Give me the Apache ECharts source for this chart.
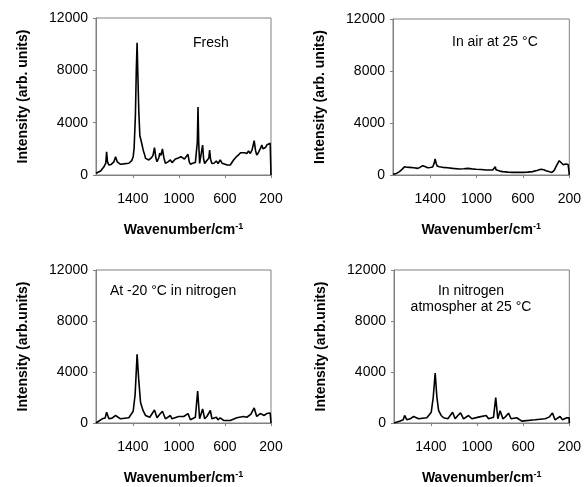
<!DOCTYPE html>
<html>
<head>
<meta charset="utf-8">
<title>Raman spectra</title>
<script src="https://cdn.jsdelivr.net/npm/echarts@6/dist/echarts.min.js"></script>
<style>
    html, body { margin: 0; padding: 0; background: #fff; }
    #main { width: 584px; height: 487px; }
</style>
</head>
<body>
<div id="main"></div>
<script>
    // tick labels
    var xTicks = [200, 600, 1000, 1400];
    var yTicks = [0, 4000, 8000, 12000];

    // Fresh
    var wnFresh = [1720, 1680, 1651, 1635, 1628, 1620, 1608, 1590, 1565, 1550, 1535, 1507, 1480, 1455, 1435, 1410, 1397,
        1389, 1378, 1370, 1363, 1356, 1348, 1339, 1325, 1310, 1296, 1290, 1275, 1261, 1240, 1225, 1212, 1200, 1190,
        1175, 1166, 1155, 1143, 1130, 1117, 1095, 1074, 1060, 1045, 1030, 1005, 982, 965, 952, 935, 921, 910, 900,
        880, 857, 845, 840, 834, 828, 820, 805, 794, 785, 776, 757, 740, 733, 725, 713, 695, 675, 660, 641, 625,
        612, 580, 554, 540, 525, 500, 482, 465, 453, 430, 420, 410, 395, 380, 365, 346, 335, 324, 310, 294, 280,
        270, 259, 248, 237, 220, 207, 201, 200];
    var intFresh = [130, 300, 630, 900, 1780, 1000, 760, 800, 1000, 1400, 1000, 820, 850, 880, 900, 1100, 1400,
        2040, 4500, 8000, 10100, 7500, 4800, 3000, 2500, 1900, 1500, 1270, 1200, 1150, 1300, 1500, 2090, 1300, 1020,
        1300, 1660, 1500, 1990, 1300, 890, 1000, 1150, 950, 1100, 1220, 1300, 1400, 1300, 1220, 1200, 1580, 1000, 820,
        900, 950, 1000, 2500, 5200, 2500, 880, 1000, 2290, 1200, 880, 1100, 1300, 1910, 1200, 880, 900, 1070, 880, 1150, 900,
        760, 760, 760, 900, 1150, 1400, 1530, 1700, 1730, 1700, 1800, 1650, 1830, 1650, 1900, 2620, 1900, 1530, 1700, 1990, 2290,
        2000, 1910, 2100, 2290, 2350, 2420, 2400, 0];

    // In air at 25 °C
    var wnAir = [1720, 1690, 1664, 1640, 1621, 1600, 1578, 1540, 1507, 1485, 1464, 1445, 1421, 1400, 1378, 1365,
        1357, 1348, 1340, 1320, 1291, 1250, 1205, 1148, 1110, 1076, 1040, 1004, 960, 918, 861, 845, 838, 832, 827,
        800, 775, 730, 689, 650, 603, 560, 517, 480, 444, 420, 401, 370, 350, 330, 315, 300, 287, 270, 252, 240,
        229, 210, 201, 200];
    var intAir = [50, 120, 260, 450, 640, 600, 590, 560, 510, 600, 720, 650, 560, 580, 620, 900,
        1230, 900, 690, 640, 590, 560, 510, 460, 480, 510, 470, 440, 420, 380, 380, 420, 640, 400, 330,
        300, 260, 220, 200, 210, 200, 220, 260, 350, 440, 400, 330, 250, 200, 350, 640, 900, 1100, 950, 790, 820,
        850, 800, 780, 0];

    // At -20 °C in nitrogen
    var wnCold = [1720, 1666, 1640, 1628, 1608, 1580, 1550, 1507, 1435, 1397, 1380, 1363, 1348, 1333, 1311, 1290,
        1276, 1253, 1212, 1190, 1166, 1143, 1117, 1074, 1060, 1002, 958, 921, 900, 857, 845, 837, 820, 794, 776,
        757, 727, 713, 675, 660, 641, 612, 554, 497, 439, 410, 376, 346, 324, 294, 280, 259, 237, 207, 201, 200];
    var intCold = [0, 330, 400, 850, 330, 380, 590, 330, 410, 920, 2250, 5380, 3280, 1610, 970, 590,
        680, 450, 1020, 410, 680, 920, 330, 590, 330, 510, 510, 740, 250, 450, 600, 2510, 330, 1100, 330,
        510, 980, 330, 450, 250, 410, 200, 200, 410, 510, 450, 680, 1180, 510, 740, 850, 590, 740, 790, 780, 0];

    // In nitrogen atmosphere at 25 °C
    var wnN2 = [1720, 1666, 1640, 1628, 1608, 1580, 1550, 1507, 1435, 1397, 1380, 1363, 1348, 1333, 1311, 1290,
        1253, 1212, 1190, 1166, 1143, 1117, 1074, 1045, 988, 921, 900, 857, 845, 838, 820, 800, 776, 757, 727,
        705, 656, 612, 497, 410, 376, 346, 324, 280, 259, 222, 201, 200];
    var intN2 = [0, 150, 250, 590, 250, 330, 510, 330, 410, 850, 2000, 3920, 2000, 970, 590, 410,
        330, 850, 330, 590, 790, 330, 590, 330, 460, 590, 330, 460, 600, 2000, 330, 970, 330, 460, 770,
        330, 410, 150, 250, 330, 460, 790, 250, 510, 250, 410, 400, 0];

    var panels = [
        { wn: wnFresh, val: intFresh, grid: { left: 96, top: 18, width: 175, height: 157 }, yName: 'Intensity (arb. units)' },
        { wn: wnAir, val: intAir, grid: { left: 393, top: 19, width: 177, height: 156 }, yName: 'Intensity (arb. units)' },
        { wn: wnCold, val: intCold, grid: { left: 96, top: 270, width: 175, height: 156 }, yName: 'Intensity (arb.units)' },
        { wn: wnN2, val: intN2, grid: { left: 394, top: 270, width: 176, height: 156 }, yName: 'Intensity (arb.units)' }
    ];

    var font = 'Liberation Sans, Arial, sans-serif';
    var frame = '#808080';
    var plain = function (v) { return String(v); };

    var grids = [], xAxes = [], yAxes = [], series = [];
    panels.forEach(function (p, i) {
        grids.push({
            left: p.grid.left, top: p.grid.top, width: p.grid.width, height: p.grid.height,
            show: true, borderColor: frame, borderWidth: 1, backgroundColor: 'transparent'
        });
        xAxes.push({
            gridIndex: i, type: 'value', inverse: true, min: 200, max: 1720,
            name: 'Wavenumber/cm{sup|-1}', nameLocation: 'middle', nameGap: 47,
            nameTextStyle: {
                fontFamily: font, fontSize: 14, fontWeight: 'bold', color: '#000', lineHeight: 16,
                rich: { sup: { fontFamily: font, fontSize: 9, fontWeight: 'bold', color: '#000', verticalAlign: 'top', lineHeight: 10 } }
            },
            axisLine: { lineStyle: { color: frame, width: 1 } },
            axisTick: { show: true, length: 3, lineStyle: { color: frame }, customValues: xTicks },
            axisLabel: { fontFamily: font, fontSize: 14, color: '#000', margin: 17, customValues: xTicks, formatter: plain },
            splitLine: { show: false }
        });
        yAxes.push({
            gridIndex: i, type: 'value', min: 0, max: 12000, interval: 4000,
            name: p.yName, nameLocation: 'middle', nameGap: 66,
            nameTextStyle: { fontFamily: font, fontSize: 14, fontWeight: 'bold', color: '#000' },
            axisLine: { show: true, lineStyle: { color: frame, width: 1 } },
            axisTick: { show: true, length: 3, lineStyle: { color: frame }, customValues: yTicks },
            axisLabel: { fontFamily: font, fontSize: 14, color: '#000', margin: 8, customValues: yTicks, formatter: plain },
            splitLine: { show: false }
        });
        series.push({
            type: 'line', xAxisIndex: i, yAxisIndex: i, symbol: 'none', smooth: false,
            lineStyle: { color: '#000', width: 1.6 },
            data: p.wn.map(function (w, k) { return [w, p.val[k]]; })
        });
    });

    var notes = [
        { left: 193, top: 35, text: 'Fresh' },
        { left: 452, top: 34, text: 'In air at 25 °C' },
        { left: 110, top: 283, text: 'At -20 °C in nitrogen' },
        { left: 471, top: 283, text: 'In nitrogen\natmospher at 25 °C', align: 'center' }
    ];

    var chart = echarts.init(document.getElementById('main'));
    chart.setOption({
        animation: false,
        backgroundColor: '#fff',
        grid: grids,
        xAxis: xAxes,
        yAxis: yAxes,
        series: series,
        graphic: notes.map(function (n) {
            return {
                type: 'text', x: n.left, y: n.top,
                style: {
                    text: n.text, fill: '#000', font: '14px ' + font,
                    align: n.align || 'left', lineHeight: 16
                }
            };
        })
    });
</script>
</body>
</html>
